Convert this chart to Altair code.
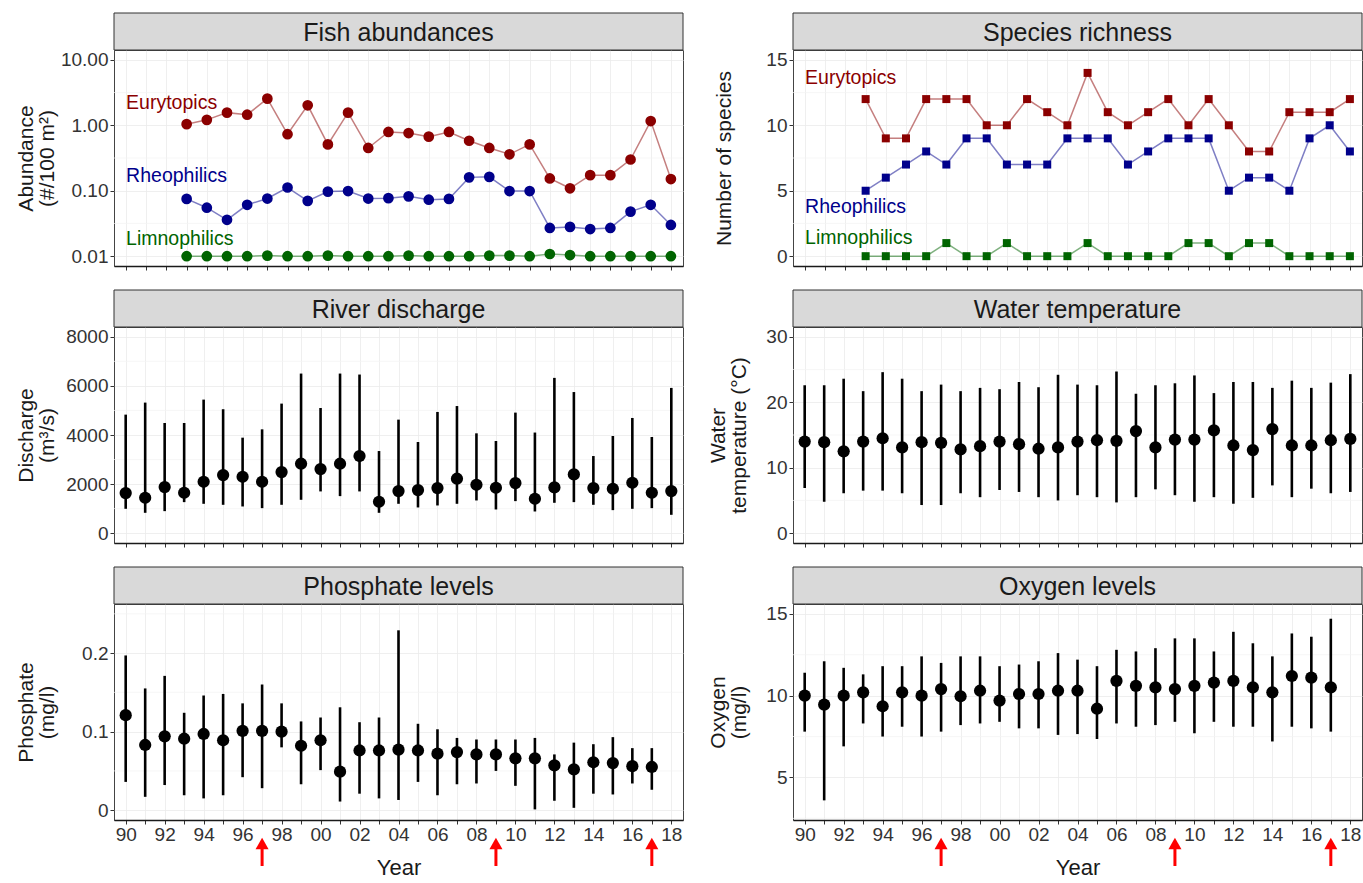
import altair as alt
import pandas as pd

FONT = "Liberation Sans"
W, H, STRIP = 569, 216, 37

# ---------------- data ----------------
years_all = list(range(1990, 2019))      # 29 levels (rows 2-3 axes)
years_top = list(range(1990, 2018))      # 28 levels (row 1 axes)
years_fish = list(range(1993, 2018))     # fish survey years
years_chem = list(range(1990, 2018))     # phosphate / oxygen years
groups = ["Eurytopics", "Rheophilics", "Limnophilics"]
group_colors = ["#8B0000", "#00008B", "#006400"]

eury_abund = [1.04, 1.21, 1.56, 1.45, 2.55, 0.73, 2.02, 0.51, 1.56, 0.45, 0.79, 0.76, 0.67,
              0.79, 0.58, 0.45, 0.36, 0.51, 0.154, 0.109, 0.173, 0.173, 0.30, 1.16, 0.151]
rheo_abund = [0.075, 0.055, 0.036, 0.061, 0.076, 0.112, 0.070, 0.097, 0.099, 0.076, 0.077, 0.082, 0.073,
              0.075, 0.160, 0.163, 0.099, 0.099, 0.027, 0.028, 0.026, 0.027, 0.048, 0.061, 0.030]
limno_abund = [0.0100, 0.0100, 0.0100, 0.0100, 0.0102, 0.0100, 0.0100, 0.0102, 0.0100, 0.0100, 0.0100, 0.0102,
               0.0100, 0.0100, 0.0100, 0.0102, 0.0102, 0.0100, 0.0108, 0.0104, 0.0100, 0.0100, 0.0100, 0.0100, 0.0100]

eury_rich = [12, 9, 9, 12, 12, 12, 10, 10, 12, 11, 10, 14, 11, 10, 11, 12, 10, 12, 10, 8, 8, 11, 11, 11, 12]
rheo_rich = [5, 6, 7, 8, 7, 9, 9, 7, 7, 7, 9, 9, 9, 7, 8, 9, 9, 9, 5, 6, 6, 5, 9, 10, 8]
limno_rich = [0, 0, 0, 0, 1, 0, 0, 1, 0, 0, 0, 1, 0, 0, 0, 0, 1, 1, 0, 1, 1, 0, 0, 0, 0]

abund_label_y = [2.2, 0.165, 0.0185]
rich_label_y = [13.6, 3.75, 1.38]

discharge_mean = [1633, 1442, 1878, 1646, 2095, 2367, 2299, 2095, 2490, 2830, 2612, 2830, 3143, 1279, 1714,
                  1755, 1837, 2218, 1973, 1850, 2041, 1401, 1864, 2395, 1837, 1810, 2054, 1646, 1714]
discharge_hi = [4830, 5320, 4490, 4490, 5442, 5050, 3891, 4231, 5279, 6503, 5100, 6503, 6463, 3347, 4626,
                3714, 4939, 5180, 4068, 3755, 4912, 4100, 6327, 5750, 3143, 3959, 4694, 3918, 5918]
discharge_lo = [993, 830, 898, 1265, 1197, 1156, 1088, 1020, 1156, 1360, 1701, 1510, 1701, 830, 1197,
                1048, 1129, 1197, 1333, 966, 1306, 884, 1238, 1265, 1156, 939, 993, 1020, 748]

temp_mean = [14.0, 13.9, 12.5, 14.0, 14.5, 13.1, 13.9, 13.8, 12.8, 13.3, 14.0, 13.6, 12.9, 13.1, 14.0,
             14.2, 14.1, 15.6, 13.1, 14.3, 14.3, 15.7, 13.4, 12.7, 15.9, 13.4, 13.4, 14.2, 14.4]
temp_hi = [22.6, 22.6, 23.6, 21.7, 24.6, 23.6, 21.7, 22.7, 21.7, 22.2, 22.0, 23.1, 22.3, 24.2, 22.7,
           22.6, 24.7, 21.3, 22.6, 22.9, 24.1, 21.4, 23.1, 23.1, 22.2, 23.3, 22.2, 23.0, 24.3]
temp_lo = [6.9, 4.8, 6.1, 6.5, 6.5, 6.1, 4.3, 4.3, 6.1, 5.5, 6.6, 6.3, 5.5, 5.0, 5.8,
           5.5, 4.7, 5.5, 6.7, 5.8, 4.8, 5.5, 4.5, 5.4, 7.3, 5.5, 6.8, 6.1, 6.3]

phos_mean = [0.121, 0.083, 0.094, 0.091, 0.097, 0.089, 0.101, 0.101, 0.100, 0.082, 0.089, 0.049, 0.076, 0.076,
             0.077, 0.076, 0.072, 0.074, 0.071, 0.071, 0.066, 0.066, 0.057, 0.052, 0.061, 0.060, 0.056, 0.055]
phos_hi = [0.197, 0.155, 0.171, 0.124, 0.146, 0.148, 0.136, 0.160, 0.136, 0.113, 0.118, 0.131, 0.112, 0.118,
           0.229, 0.110, 0.103, 0.092, 0.090, 0.090, 0.090, 0.092, 0.071, 0.086, 0.084, 0.093, 0.079, 0.079]
phos_lo = [0.036, 0.017, 0.032, 0.019, 0.015, 0.019, 0.042, 0.028, 0.080, 0.033, 0.051, 0.011, 0.021, 0.015,
           0.013, 0.036, 0.019, 0.033, 0.034, 0.050, 0.031, 0.001, 0.012, 0.003, 0.021, 0.020, 0.034, 0.026]

oxy_mean = [10.0, 9.45, 10.0, 10.2, 9.35, 10.2, 10.0, 10.4, 9.96, 10.3, 9.7, 10.1, 10.1, 10.3,
            10.3, 9.2, 10.9, 10.6, 10.5, 10.4, 10.6, 10.8, 10.9, 10.5, 10.2, 11.2, 11.1, 10.5]
oxy_hi = [11.4, 12.1, 11.7, 11.3, 11.8, 11.8, 12.4, 12.0, 12.4, 12.4, 11.8, 11.9, 12.1, 12.6,
          12.2, 11.8, 12.8, 12.7, 12.9, 13.5, 13.5, 12.7, 13.9, 13.2, 12.4, 13.8, 13.6, 14.7]
oxy_lo = [7.8, 3.6, 6.9, 8.3, 7.5, 8.1, 7.5, 7.8, 8.2, 8.3, 8.4, 8.0, 8.0, 7.6,
          7.65, 7.35, 8.3, 8.1, 8.2, 8.4, 7.7, 8.4, 8.1, 8.1, 7.2, 8.1, 8.0, 7.8]

arrow_years = [1997, 2009, 2017]

# ---------------- helpers ----------------
GRID = "#EBEBEB"
MINOR = "#F3F3F3"
LABEL_SIZE = 19
TITLE_SIZE = 21


def x_enc(field, top, bottom):
    dom = [1989.4, 2017.6] if top else [1989.4, 2018.6]
    vals = years_top if top else years_all
    kw = dict(values=vals, grid=True, gridColor=GRID, gridWidth=0.8, ticks=True, tickSize=4,
              tickColor="#333333", tickWidth=1, domain=True, domainColor="#1A1A1A", domainWidth=1.5,
              labelOverlap=False)
    if bottom:
        kw.update(labels=True,
                  labelExpr="datum.value % 2 == 0 ? format(datum.value % 100, '02d') : ''",
                  labelFont=FONT, labelFontSize=LABEL_SIZE, labelColor="#333333", labelPadding=1,
                  labelFlush=False, title="Year", titleFont=FONT, titleFontSize=22,
                  titleFontWeight="normal", titleColor="#1A1A1A", titlePadding=13)
    else:
        kw.update(labels=False, title=None)
    return alt.X(f"{field}:Q", scale=alt.Scale(domain=dom, nice=False, zero=False), axis=alt.Axis(**kw))


def y_enc(field, spec):
    sc = dict(domain=spec["domain"], nice=False, zero=False)
    if spec.get("log"):
        sc["type"] = "log"
    ax = alt.Axis(values=spec["values"], format=spec["fmt"], title=spec["title"], titleX=spec["titleX"],
                  titleY=H / 2, titleAngle=270, titleAlign="center", titleBaseline="bottom",
                  titleFont=FONT, titleFontSize=TITLE_SIZE, titleFontWeight="normal", titleColor="#1A1A1A",
                  titleLineHeight=21, labelFont=FONT, labelFontSize=LABEL_SIZE, labelColor="#333333",
                  labelPadding=2, ticks=True, tickSize=4, tickColor="#333333", domain=False,
                  grid=True, gridColor=GRID, gridWidth=0.8)
    return alt.Y(f"{field}:Q", scale=alt.Scale(**sc), axis=ax)


def strip_layers(text):
    sdf = pd.DataFrame({"label": [text]})
    rect = alt.Chart(sdf).mark_rect(fill="#D9D9D9", stroke="#333333", strokeWidth=1).encode(
        x=alt.value(0), x2=alt.value(W), y=alt.value(-STRIP), y2=alt.value(0))
    txt = alt.Chart(sdf).mark_text(font=FONT, fontSize=25, color="#1A1A1A").encode(
        x=alt.value(W / 2), y=alt.value(-STRIP / 2 + 1), text="label:N")
    return [rect, txt]


def minor_layer(spec):
    mdf = pd.DataFrame({"v": spec["minor"]})
    return alt.Chart(mdf).mark_rule(color=MINOR, strokeWidth=0.7).encode(y=y_enc("v", spec))


def arrow_layers(top, bottom):
    adf = pd.DataFrame({"year": arrow_years})
    shaft = alt.Chart(adf).mark_rule(color="#FF0000", strokeWidth=3).encode(
        x=x_enc("year", top, bottom), y=alt.value(H + 27), y2=alt.value(H + 46))
    head = alt.Chart(adf).mark_point(shape="triangle-up", filled=True, size=170, color="#FF0000",
                                     opacity=1, strokeWidth=0).encode(
        x=x_enc("year", top, bottom), y=alt.value(H + 23.5))
    return [shaft, head]


color_scale = alt.Scale(domain=groups, range=group_colors)


def group_panel(title, spec, values, label_y, shape):
    rows = []
    for g, vals in zip(groups, values):
        for yr, v in zip(years_fish, vals):
            rows.append({"year": yr, "val": v, "group": g})
    df = pd.DataFrame(rows)
    ldf = pd.DataFrame({"year": [1990] * 3, "val": label_y, "group": groups})
    col = alt.Color("group:N", scale=color_scale, legend=None)
    line = alt.Chart(df).mark_line(strokeWidth=1.5, opacity=0.5).encode(
        x=x_enc("year", True, False), y=y_enc("val", spec), color=col, detail="group:N")
    if shape == "circle":
        pts = alt.Chart(df).mark_circle(size=115, opacity=1).encode(
            x=x_enc("year", True, False), y=y_enc("val", spec), color=col)
    else:
        pts = alt.Chart(df).mark_square(size=64, opacity=1).encode(
            x=x_enc("year", True, False), y=y_enc("val", spec), color=col)
    labels = alt.Chart(ldf).mark_text(font=FONT, fontSize=19.5, align="left").encode(
        x=x_enc("year", True, False), y=y_enc("val", spec), color=col, text="group:N")
    layers = [minor_layer(spec), line, pts, labels] + strip_layers(title)
    return alt.layer(*layers).properties(width=W, height=H)


def errbar_panel(title, spec, years, mean, lo, hi, bottom):
    df = pd.DataFrame({"year": years, "mean": mean, "lo": lo, "hi": hi})
    bars = alt.Chart(df).mark_rule(color="black", strokeWidth=2.6).encode(
        x=x_enc("year", False, bottom), y=y_enc("lo", spec), y2="hi:Q")
    pts = alt.Chart(df).mark_circle(color="black", size=150, opacity=1).encode(
        x=x_enc("year", False, bottom), y=y_enc("mean", spec))
    layers = [minor_layer(spec), bars, pts] + strip_layers(title)
    if bottom:
        layers += arrow_layers(False, bottom)
    return alt.layer(*layers).properties(width=W, height=H)


# ---------------- axis specs ----------------
spec_abund = dict(domain=[10 ** -2.15, 10 ** 1.15], log=True, values=[0.01, 0.1, 1, 10], fmt=".2f",
                  title=["Abundance", "(#/100 m²)"], titleX=-78,
                  minor=[10 ** -1.5, 10 ** -0.5, 10 ** 0.5])
spec_rich = dict(domain=[-0.75, 15.75], values=[0, 5, 10, 15], fmt="d",
                 title="Number of species", titleX=-59, minor=[2.5, 7.5, 12.5])
spec_dis = dict(domain=[-400, 8400], values=[0, 2000, 4000, 6000, 8000], fmt="d",
                title=["Discharge", "(m³/s)"], titleX=-78, minor=[1000, 3000, 5000, 7000])
spec_temp = dict(domain=[-1.5, 31.5], values=[0, 10, 20, 30], fmt="d",
                 title=["Water", "temperature (°C)"], titleX=-65, minor=[5, 15, 25])
spec_phos = dict(domain=[-0.0125, 0.2625], values=[0, 0.1, 0.2], fmt="~g",
                 title=["Phosphate", "(mg/l)"], titleX=-78, minor=[0.05, 0.15, 0.25])
spec_oxy = dict(domain=[2.4, 15.6], values=[5, 10, 15], fmt="d",
                title=["Oxygen", "(mg/l)"], titleX=-65, minor=[2.5, 7.5, 12.5])

fish = group_panel("Fish abundances", spec_abund, [eury_abund, rheo_abund, limno_abund], abund_label_y, "circle")
rich = group_panel("Species richness", spec_rich, [eury_rich, rheo_rich, limno_rich], rich_label_y, "square")
dis = errbar_panel("River discharge", spec_dis, years_all, discharge_mean, discharge_lo, discharge_hi, False)
temp = errbar_panel("Water temperature", spec_temp, years_all, temp_mean, temp_lo, temp_hi, False)
phos = errbar_panel("Phosphate levels", spec_phos, years_chem, phos_mean, phos_lo, phos_hi, True)
oxy = errbar_panel("Oxygen levels", spec_oxy, years_chem, oxy_mean, oxy_lo, oxy_hi, True)

chart = alt.concat(fish, rich, dis, temp, phos, oxy, columns=2,
                   spacing={"row": 18, "column": 22}).properties(
    padding={"left": 14, "top": 12, "right": 0, "bottom": 0},
    background="white",
).configure_view(stroke="#444444", strokeWidth=1, fill="white")

chart.save("out.html", embed_options={"renderer": "svg", "actions": False})
